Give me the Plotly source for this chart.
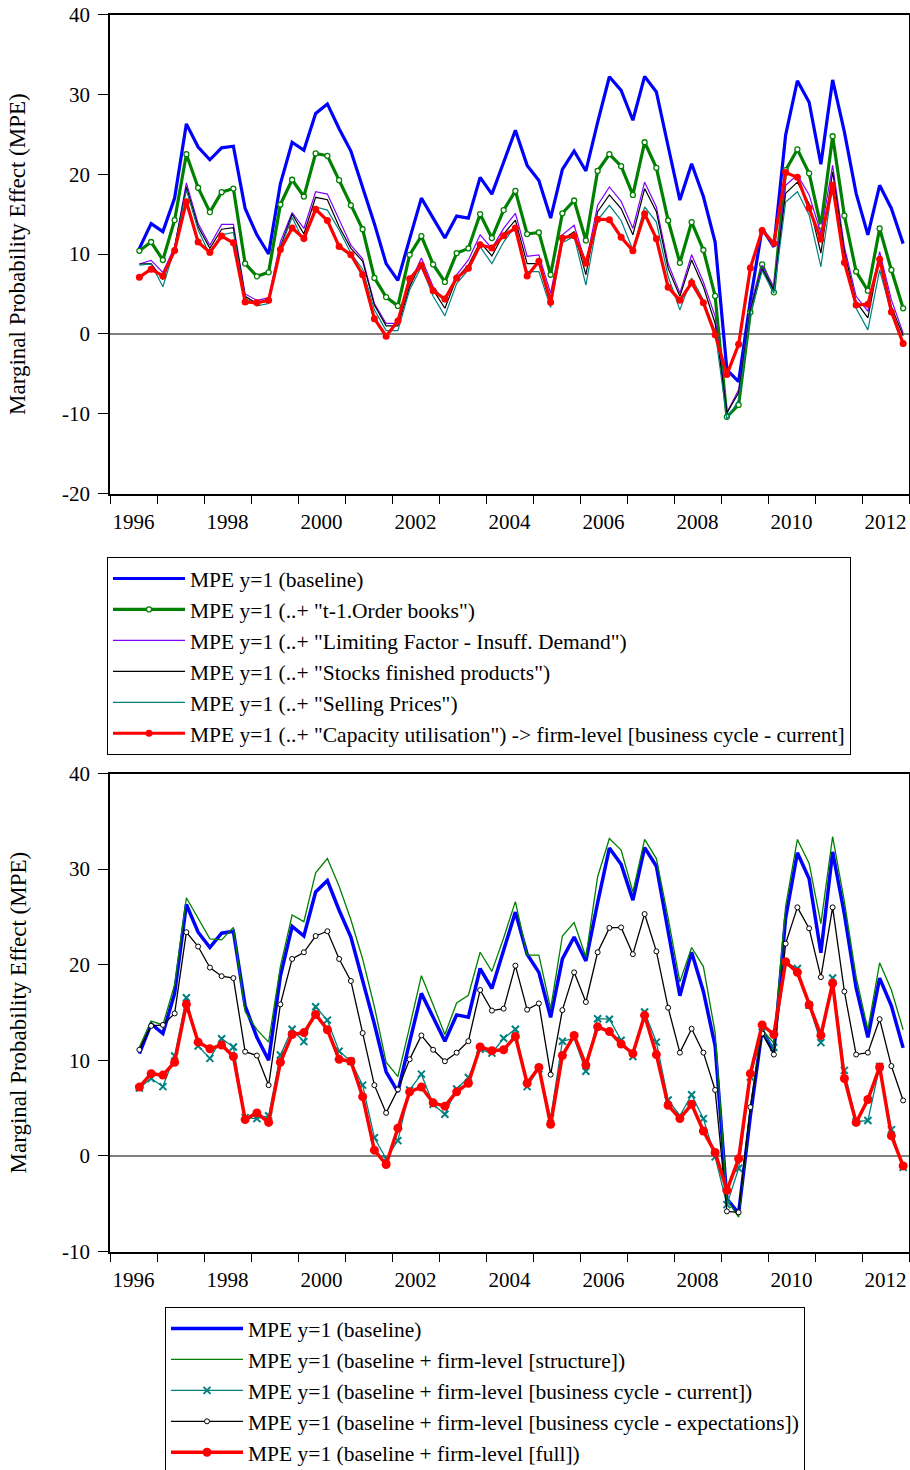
import plotly.graph_objects as go

# ---- quarters: 1996Q3 .. 2012Q4 ----
quarters = []
for k in range(66):
    t = 1996 * 4 + 2 + k
    quarters.append(f"{t // 4}Q{t % 4 + 1}")

def qpos(label):
    y, q = label.split("Q")
    return int(y) + (int(q) - 0.5) / 4.0

xq = [qpos(q) for q in quarters]

# ---- series ----
baseline = [10.7, 13.8, 12.8, 17.0, 26.3, 23.4, 21.8, 23.3, 23.5, 15.7,
            12.4, 10.0, 18.8, 24.0, 23.0, 27.6, 28.8, 25.7, 22.9, 18.4,
            13.8, 8.8, 6.7, 11.9, 17.0, 14.5, 12.0, 14.75, 14.5, 19.6,
            17.5, 21.5, 25.5, 21.1, 19.2, 14.5, 20.6, 22.9, 20.4, 26.5,
            32.2, 30.5, 26.75, 32.25, 30.3, 23.5, 16.75, 21.3, 17.2, 11.5,
            -4.5, -6.0, 4.2, 13.2, 10.9, 24.9, 31.7, 29.0, 21.25, 31.8,
            25.3, 17.6, 12.4, 18.6, 15.7, 11.3]

order_books = [10.4, 11.5, 9.25, 14.25, 22.5, 18.3, 15.25, 17.75, 18.2, 8.8,
               7.2, 7.7, 16.2, 19.3, 17.2, 22.6, 22.3, 19.25, 16.1, 13.1,
               7.0, 4.6, 3.5, 9.9, 12.25, 8.7, 6.5, 10.1, 10.7, 15.0,
               12.0, 15.5, 17.9, 12.5, 12.7, 7.4, 15.1, 16.7, 11.7, 20.4,
               22.5, 21.0, 17.4, 24.0, 20.8, 14.2, 8.9, 14.0, 10.5, 4.75,
               -10.4, -8.9, 2.7, 8.7, 5.2, 20.5, 23.1, 20.1, 13.5, 24.75,
               14.8, 7.8, 5.4, 13.2, 8.0, 3.2]

limiting_factor = [8.75, 9.2, 7.7, 10.9, 18.9, 13.8, 11.1, 13.7, 13.7, 5.0,
                   4.2, 4.5, 11.5, 15.2, 13.2, 17.8, 17.5, 14.25, 11.1, 9.4,
                   3.8, 1.3, 1.3, 6.3, 9.5, 5.9, 4.0, 7.4, 9.25, 12.4,
                   10.7, 13.2, 15.1, 9.7, 9.9, 5.1, 12.4, 13.6, 8.8, 16.1,
                   18.4, 16.6, 13.2, 19.0, 15.9, 8.8, 5.1, 9.9, 6.5, 2.2,
                   -9.9, -7.0, 3.4, 8.6, 5.9, 18.6, 19.9, 17.4, 12.6, 21.1,
                   10.9, 4.7, 2.8, 10.3, 4.25, 0.1]

stocks = [8.75, 8.8, 6.8, 10.9, 18.4, 13.4, 10.7, 13.1, 13.3, 4.7,
          3.8, 4.2, 10.9, 15.0, 12.5, 17.1, 16.8, 13.4, 10.7, 9.1,
          3.6, 1.0, 1.0, 5.9, 9.0, 5.5, 3.2, 7.0, 8.6, 11.5,
          9.75, 12.5, 14.25, 8.8, 8.8, 4.5, 11.8, 12.8, 7.4, 15.3,
          17.4, 15.7, 12.4, 18.2, 15.3, 8.2, 4.7, 9.25, 5.9, 1.3,
          -9.9, -7.4, 3.0, 8.1, 5.5, 17.6, 19.0, 16.3, 10.1, 20.3,
          10.3, 4.0, 2.0, 9.7, 3.4, -0.25]

selling_prices = [8.6, 8.75, 5.9, 10.7, 18.0, 13.0, 9.9, 12.4, 12.7, 4.5,
                  3.5, 3.8, 10.7, 14.6, 11.5, 15.9, 15.5, 13.0, 10.1, 8.1,
                  3.0, 0.4, 0.4, 5.5, 8.4, 4.7, 2.25, 6.3, 8.0, 10.9,
                  8.8, 11.5, 13.5, 7.8, 7.8, 3.3, 11.4, 12.2, 6.1, 14.25,
                  16.1, 14.2, 10.5, 15.9, 14.0, 7.2, 3.0, 7.0, 4.25, 0.3,
                  -10.7, -8.25, 2.6, 7.9, 5.1, 16.5, 17.8, 14.9, 8.4, 18.8,
                  9.25, 3.2, 0.5, 8.0, 2.6, -1.4]

# capacity utilisation -> firm-level [business cycle - current]
bc_current = [7.1, 8.1, 7.25, 10.45, 16.55, 11.5, 10.2, 12.25, 11.4, 4.0,
              3.9, 4.2, 10.55, 13.25, 11.95, 15.6, 14.2, 10.95, 9.9, 7.4,
              1.9, -0.3, 1.6, 6.9, 8.55, 5.4, 4.35, 7.0, 8.2, 11.15,
              10.75, 12.3, 13.25, 7.25, 9.1, 3.95, 12.0, 12.3, 8.85, 14.35,
              14.3, 12.1, 10.4, 15.05, 11.9, 5.85, 4.2, 6.4, 3.9, -0.1,
              -5.1, -1.3, 8.25, 12.95, 11.35, 20.2, 19.6, 15.75, 11.85, 18.6,
              8.95, 3.6, 3.7, 9.35, 2.75, -1.2]

structure = [11.4, 14.1, 13.7, 17.9, 27.0, 24.9, 22.7, 22.6, 23.9, 15.1,
             13.2, 11.9, 19.8, 25.2, 24.5, 29.6, 31.1, 28.2, 24.7, 20.6,
             15.6, 9.8, 8.3, 13.5, 18.85, 15.8, 12.7, 16.0, 16.8, 21.3,
             19.3, 22.8, 26.6, 21.0, 21.0, 15.4, 23.0, 24.4, 20.8, 29.2,
             33.2, 32.0, 27.6, 33.1, 31.1, 24.9, 18.2, 21.8, 19.8, 12.9,
             -4.6, -6.4, 5.1, 13.2, 11.8, 26.1, 33.1, 30.6, 24.3, 33.4,
             26.6, 18.7, 13.2, 20.2, 17.35, 13.2]

bc_expectations = [11.1, 13.6, 13.7, 14.9, 23.4, 21.9, 19.7, 18.8, 18.6, 10.9,
                   10.5, 7.4, 15.85, 20.6, 21.3, 23.0, 23.5, 20.6, 18.3, 12.85,
                   7.4, 4.5, 6.95, 10.1, 12.6, 11.1, 9.9, 10.8, 12.0, 17.35,
                   15.2, 15.4, 19.9, 15.3, 15.95, 8.5, 15.25, 19.2, 16.1, 21.3,
                   23.85, 23.9, 21.1, 25.3, 21.4, 15.5, 10.8, 13.3, 10.8, 6.9,
                   -5.8, -5.9, 5.1, 12.8, 10.6, 22.2, 26.0, 23.8, 18.7, 26.0,
                   17.2, 10.6, 10.8, 14.3, 9.4, 5.8]

full = [7.2, 8.6, 8.45, 9.8, 15.85, 11.9, 11.2, 11.6, 10.4, 3.8,
        4.5, 3.5, 9.8, 12.7, 12.9, 14.8, 13.2, 10.1, 9.9, 6.2,
        0.6, -0.9, 2.9, 6.7, 7.2, 5.55, 5.2, 6.7, 7.6, 11.4,
        11.0, 11.1, 12.5, 7.6, 9.25, 3.3, 10.5, 12.6, 9.5, 13.5,
        13.0, 11.7, 10.7, 14.7, 10.6, 5.3, 3.9, 5.4, 2.6, 0.35,
        -3.6, -0.3, 8.6, 13.7, 12.7, 20.3, 19.2, 15.8, 12.6, 18.05,
        8.1, 3.5, 5.9, 9.3, 2.1, -1.05]

year_labels = [str(y) for y in range(1996, 2013, 2)]
year_bounds = list(range(1996, 2014))
top_yticks = [40, 30, 20, 10, 0, -10, -20]
bot_yticks = [40, 30, 20, 10, 0, -10]

labels_top = [
    'MPE y=1 (baseline)',
    'MPE y=1 (..+ "t-1.Order books")',
    'MPE y=1 (..+ "Limiting Factor - Insuff. Demand")',
    'MPE y=1 (..+ "Stocks finished products")',
    'MPE y=1 (..+ "Selling Prices")',
    'MPE y=1 (..+ "Capacity utilisation") -> firm-level [business cycle - current]',
]
labels_bot = [
    'MPE y=1 (baseline)',
    'MPE y=1 (baseline + firm-level [structure])',
    'MPE y=1 (baseline + firm-level [business cycle - current])',
    'MPE y=1 (baseline + firm-level [business cycle - expectations])',
    'MPE y=1 (baseline + firm-level [full])',
]

BLUE = "#0000ff"
GREEN = "#008000"
PURPLE = "#8000ff"
TEAL = "#008080"
RED = "#ff0000"
FONT = "Liberation Serif"

fig = go.Figure()

# ---- top panel ----
fig.add_trace(go.Scatter(x=xq, y=baseline, mode="lines", name=labels_top[0],
                         line=dict(color=BLUE, width=3.2), xaxis="x", yaxis="y", legend="legend"))
fig.add_trace(go.Scatter(x=xq, y=order_books, mode="lines+markers", name=labels_top[1],
                         line=dict(color=GREEN, width=3.2),
                         marker=dict(symbol="circle", size=5, color="white", line=dict(color=GREEN, width=1.3)),
                         xaxis="x", yaxis="y", legend="legend"))
fig.add_trace(go.Scatter(x=xq, y=limiting_factor, mode="lines", name=labels_top[2],
                         line=dict(color=PURPLE, width=1.2), xaxis="x", yaxis="y", legend="legend"))
fig.add_trace(go.Scatter(x=xq, y=stocks, mode="lines", name=labels_top[3],
                         line=dict(color="black", width=1.2), xaxis="x", yaxis="y", legend="legend"))
fig.add_trace(go.Scatter(x=xq, y=selling_prices, mode="lines", name=labels_top[4],
                         line=dict(color=TEAL, width=1.2), xaxis="x", yaxis="y", legend="legend"))
fig.add_trace(go.Scatter(x=xq, y=bc_current, mode="lines+markers", name=labels_top[5],
                         line=dict(color=RED, width=3.2),
                         marker=dict(symbol="circle", size=7, color=RED),
                         xaxis="x", yaxis="y", legend="legend"))

# ---- bottom panel ----
fig.add_trace(go.Scatter(x=xq, y=baseline, mode="lines", name=labels_bot[0],
                         line=dict(color=BLUE, width=3.5), xaxis="x2", yaxis="y2", legend="legend2"))
fig.add_trace(go.Scatter(x=xq, y=structure, mode="lines", name=labels_bot[1],
                         line=dict(color=GREEN, width=1.3), xaxis="x2", yaxis="y2", legend="legend2"))
fig.add_trace(go.Scatter(x=xq, y=bc_current, mode="lines+markers", name=labels_bot[2],
                         line=dict(color=TEAL, width=1.3),
                         marker=dict(symbol="x-thin", size=7, color=TEAL, line=dict(color=TEAL, width=2)),
                         xaxis="x2", yaxis="y2", legend="legend2"))
fig.add_trace(go.Scatter(x=xq, y=bc_expectations, mode="lines+markers", name=labels_bot[3],
                         line=dict(color="black", width=1.3),
                         marker=dict(symbol="circle", size=5, color="white", line=dict(color="black", width=1)),
                         xaxis="x2", yaxis="y2", legend="legend2"))
fig.add_trace(go.Scatter(x=xq, y=full, mode="lines+markers", name=labels_bot[4],
                         line=dict(color=RED, width=3.5),
                         marker=dict(symbol="circle", size=9, color=RED),
                         xaxis="x2", yaxis="y2", legend="legend2"))

W, H = 910, 1470
x0, x1 = 110 / W, 909 / W
top_dom = [1 - 493.5 / H, 1 - 14.5 / H]
bot_dom = [1 - 1251.5 / H, 1 - 773.5 / H]

tickfont = dict(family=FONT, size=21, color="black")

def xaxis_cfg(anchor):
    return dict(domain=[x0, x1], range=[1996, 2013], anchor=anchor, automargin=False,
                tickmode="array", tickvals=[int(s) + 0.5 for s in year_labels], ticktext=year_labels,
                ticks="outside", ticklen=9, tickcolor="rgba(0,0,0,0)",
                minor=dict(tickmode="array", tickvals=year_bounds, ticks="outside",
                           ticklen=9, tickwidth=1.2, tickcolor="black"),
                showline=True, linecolor="black", linewidth=1.5, mirror=True,
                showgrid=False, zeroline=False, tickfont=tickfont, fixedrange=True)

def yaxis_cfg(anchor, dom, rng, vals):
    return dict(domain=dom, range=rng, anchor=anchor, automargin=False,
                tickmode="array", tickvals=vals, ticktext=[str(v) for v in vals],
                ticks="outside", ticklen=10, tickwidth=1.2, tickcolor="black",
                showline=True, linecolor="black", linewidth=1.5, mirror=True,
                showgrid=False, zeroline=True, zerolinecolor="#808080", zerolinewidth=1.5,
                tickfont=tickfont, ticklabelstandoff=4, fixedrange=True)

legend_common = dict(font=dict(family=FONT, size=21.5, color="black"),
                     bordercolor="black", borderwidth=1, bgcolor="white",
                     xanchor="left", yanchor="top", itemwidth=72,
                     tracegroupgap=0, traceorder="normal")

fig.update_layout(
    width=W, height=H, autosize=False,
    margin=dict(l=0, r=0, t=0, b=0, autoexpand=False),
    paper_bgcolor="white", plot_bgcolor="white",
    font=dict(family=FONT, size=21, color="black"),
    showlegend=True,
    xaxis=xaxis_cfg("y"),
    yaxis=yaxis_cfg("x", top_dom, [-20, 40], top_yticks),
    xaxis2=xaxis_cfg("y2"),
    yaxis2=yaxis_cfg("x2", bot_dom, [-10, 40], bot_yticks),
    legend=dict(x=107 / W, y=1 - 557 / H, **legend_common),
    legend2=dict(x=165 / W, y=1 - 1307 / H, **legend_common),
)

title = "Marginal Probability Effect (MPE)"
for dom in (top_dom, bot_dom):
    fig.add_annotation(text=title, textangle=-90, xref="paper", yref="paper",
                       x=18 / W, y=(dom[0] + dom[1]) / 2, xanchor="center", yanchor="middle",
                       showarrow=False, font=dict(family=FONT, size=23, color="black"))

fig.write_html("out.html", config={"displayModeBar": False},
               post_script="document.body.style.margin='0';document.body.style.overflow='hidden';")
